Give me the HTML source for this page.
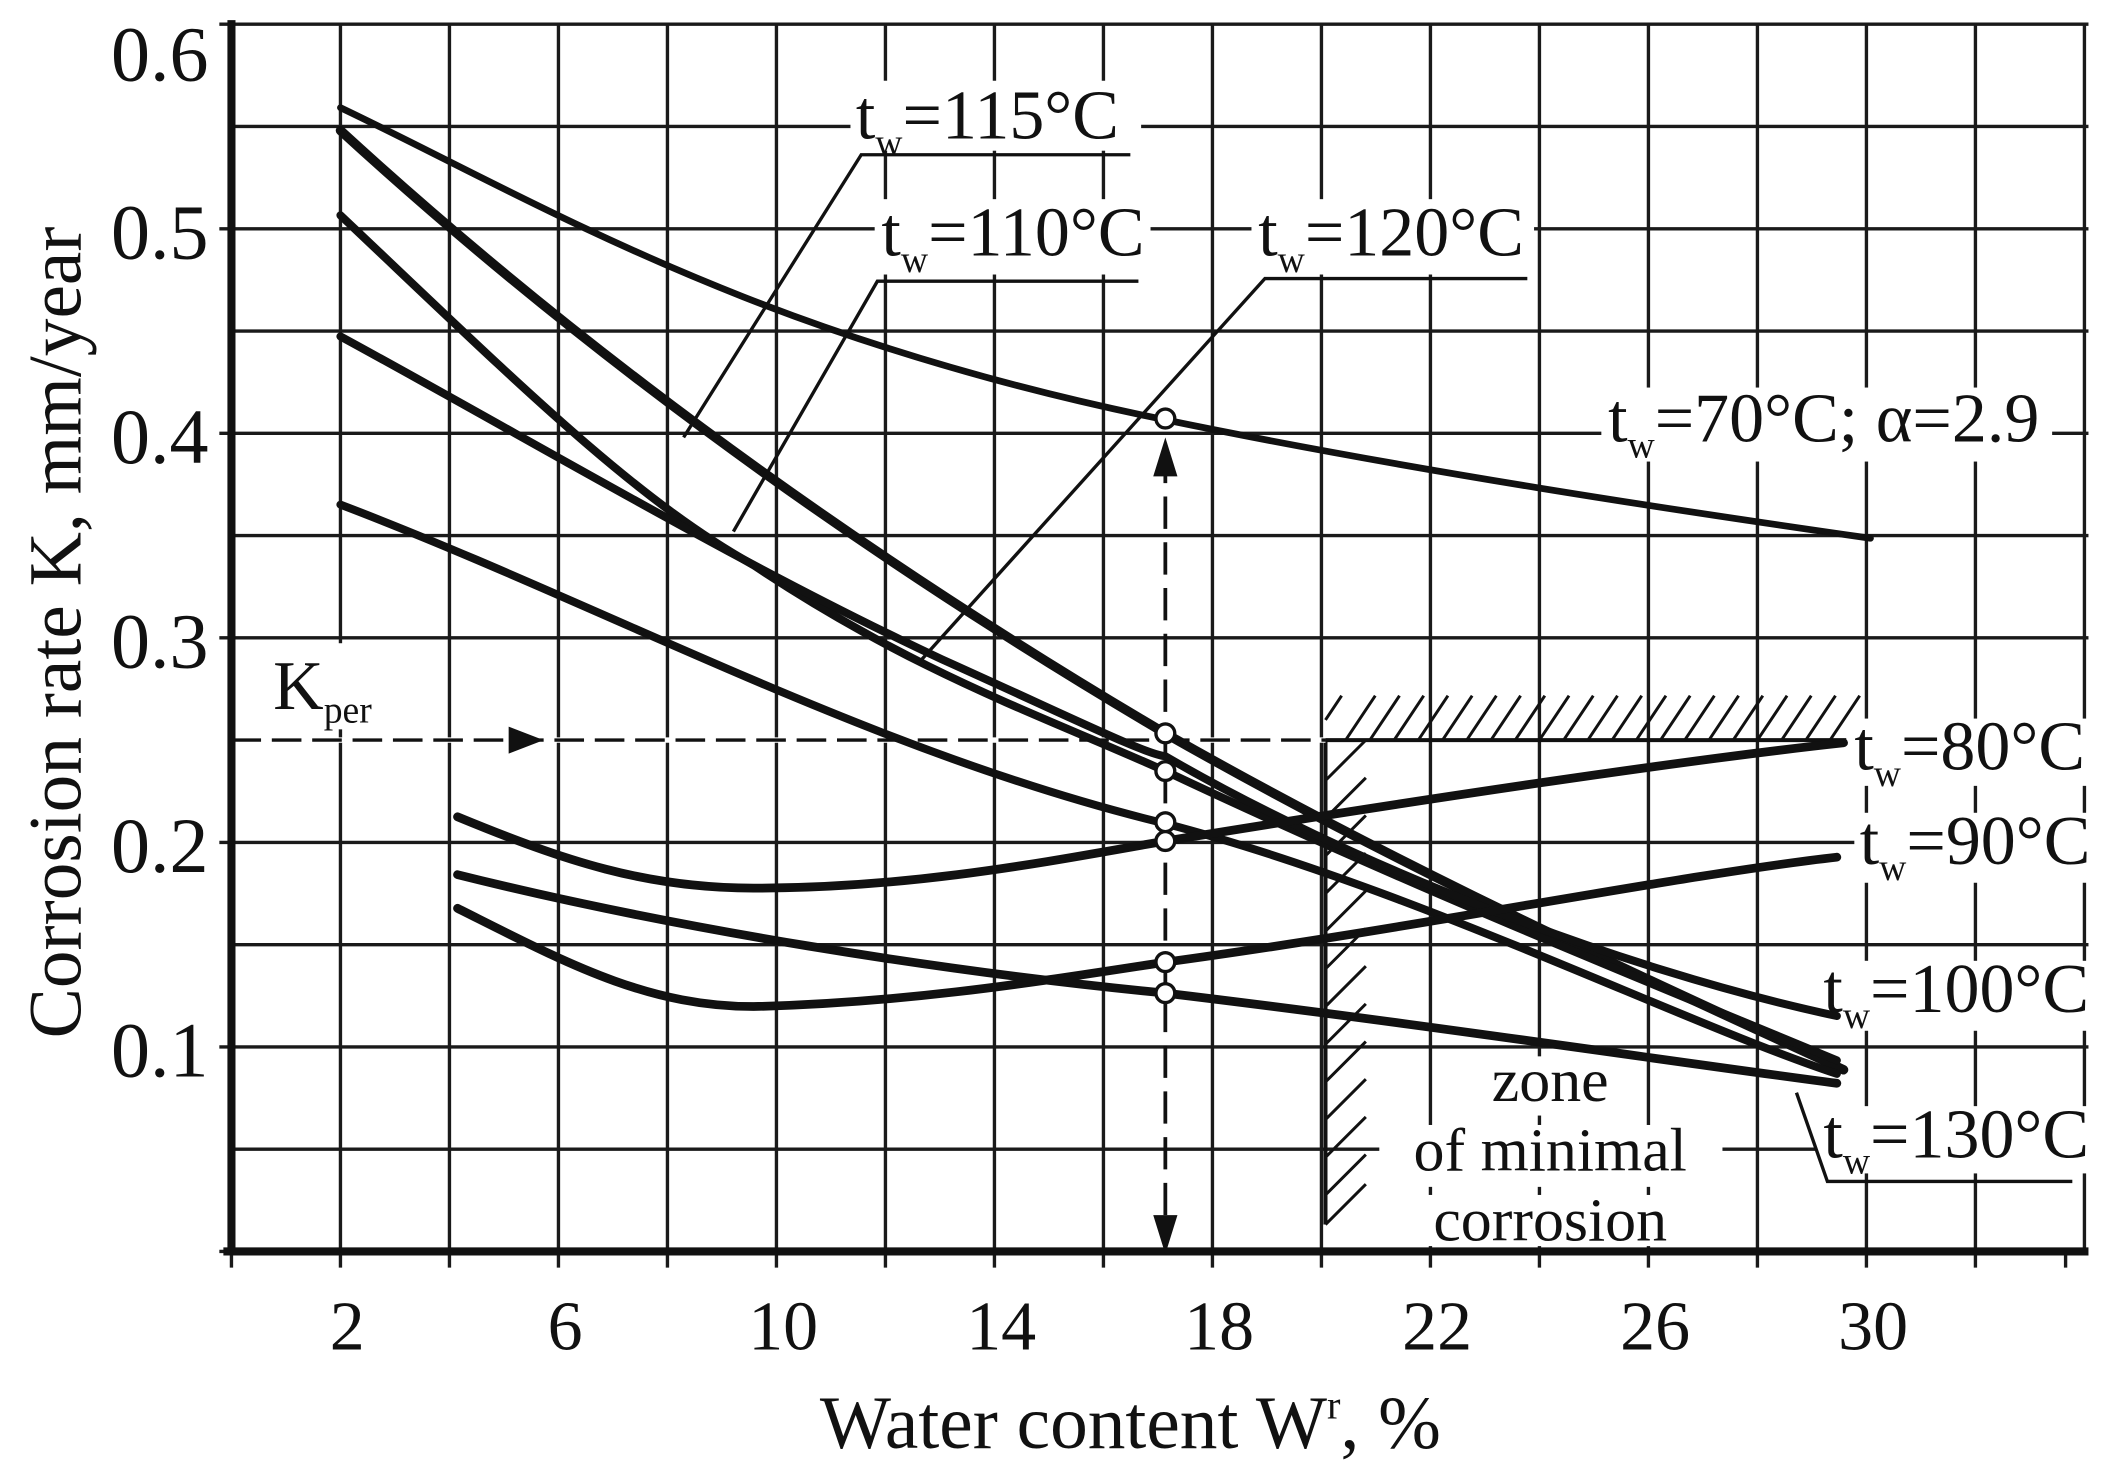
<!DOCTYPE html>
<html><head><meta charset="utf-8"><style>
html,body{margin:0;padding:0;background:#fff;}
svg{display:block;}
text{font-family:"Liberation Serif",serif;fill:#111;}
</style></head><body>
<svg width="2110" height="1477" viewBox="0 0 1568 1097.6" xmlns="http://www.w3.org/2000/svg">
<g stroke="#1a1a1a" stroke-width="2.5" fill="none">
<path d="M172,18H1552 M172,94H1552 M172,170H1552 M172,246H1552 M172,322H1552 M172,398H1552 M172,474H1552 M172,626H1552 M172,702H1552 M172,778H1552 M172,854H1552"/>
<path d="M253,18V930 M334,18V930 M415,18V930 M496,18V930 M577,18V930 M658,18V930 M739,18V930 M820,18V930 M901,18V930 M982,18V930 M1063,18V930 M1144,18V930 M1225,18V930 M1306,18V930 M1387,18V930 M1468,18V930 M1549,18V930"/>
<path d="M172,930V942 M253,930V942 M334,930V942 M415,930V942 M496,930V942 M577,930V942 M658,930V942 M739,930V942 M820,930V942 M901,930V942 M982,930V942 M1063,930V942 M1144,930V942 M1225,930V942 M1306,930V942 M1387,930V942 M1468,930V942 M1535,930V942"/>
<path d="M163,18H172 M163,170H172 M163,322H172 M163,474H172 M163,626H172 M163,778H172 M163,930H172"/>
</g>

<g stroke="#111" fill="none">
<path d="M985,550H1385 M985,550V910" stroke-width="3"/>
<path stroke-width="2.2" d="M985,535l12,-18 M1000,550l22,-33 M1018,550l22,-33 M1036,550l22,-33 M1054,550l22,-33 M1072,550l22,-33 M1090,550l22,-33 M1108,550l22,-33 M1126,550l22,-33 M1144,550l22,-33 M1162,550l22,-33 M1180,550l22,-33 M1198,550l22,-33 M1216,550l22,-33 M1234,550l22,-33 M1252,550l22,-33 M1270,550l22,-33 M1288,550l22,-33 M1306,550l22,-33 M1324,550l22,-33 M1342,550l22,-33 M1360,550l22,-33"/>
<path stroke-width="2.2" d="M985,580l30,-30 M985,608l30,-30 M985,636l30,-30 M985,664l30,-30 M985,692l30,-30 M985,720l30,-30 M985,748l30,-30 M985,776l30,-30 M985,804l30,-30 M985,832l30,-30 M985,860l30,-30 M985,888l30,-30 M985,910l30,-30"/>
</g>

<path d="M172,550H985" stroke="#fff" stroke-width="4" />
<path d="M172,550H985" stroke="#111" stroke-width="2.5" stroke-dasharray="22,8"/>
<path d="M378,540 L404,550 L378,560 Z" fill="#111"/>
<rect x="185" y="478" width="112" height="64" fill="#fff"/>
<text x="203" y="527" font-size="52">K<tspan font-size="28" dy="10">per</tspan></text>

<g fill="#fff">
<rect x="632" y="60" width="216" height="52"/>
<rect x="650" y="148" width="205" height="56"/>
<rect x="930" y="148" width="210" height="56"/>
<rect x="1190" y="288" width="335" height="55"/>
<rect x="1372" y="534" width="180" height="50"/>
<rect x="1378" y="604" width="180" height="52"/>
<rect x="1350" y="714" width="205" height="52"/>
<rect x="1350" y="822" width="205" height="50"/>
<rect x="1095" y="785" width="115" height="44"/>
<rect x="1025" y="836" width="255" height="46"/>
<rect x="1045" y="888" width="215" height="38"/>
</g>

<path d="M172,15V932 M166,930H1552" stroke="#111" stroke-width="6" fill="none"/>

<path d="M866,335V918" stroke="#111" stroke-width="2.8" stroke-dasharray="24,10" fill="none"/>
<path d="M857,354 L866,325 L875,354 Z M857,903 L866,932 L875,903 Z" fill="#111"/>

<g fill="none" stroke="#111" stroke-linecap="round">
<path stroke-width="5" d="M253,80 C400,150 560,250 866,312 C1050,350 1250,380 1390,400"/>
<path stroke-width="7" d="M253,97 C420,250 620,400 866,545 C1050,650 1230,730 1370,795"/>
<path stroke-width="6" d="M253,160 C380,280 470,370 560,420 C680,500 770,530 866,573 C1050,660 1250,740 1365,788"/>
<path stroke-width="6" d="M253,250 C400,330 550,420 700,490 C800,535 850,560 866,562 C1000,640 1200,720 1365,755"/>
<path stroke-width="6" d="M253,375 C450,450 650,560 866,612 C1050,660 1250,760 1365,798"/>
<path stroke-width="6.5" d="M340,607 C420,640 480,660 560,660 C680,660 780,640 866,625 C1050,595 1250,565 1370,552"/>
<path stroke-width="6.5" d="M340,675 C420,715 480,748 560,748 C680,745 780,728 866,715 C1050,690 1250,650 1365,637"/>
<path stroke-width="6.5" d="M340,650 C500,690 700,722 866,738 C1050,760 1250,790 1365,805"/>
</g>
<g fill="#fff" stroke="#111" stroke-width="2.5">
<circle cx="866" cy="311" r="7"/><circle cx="866" cy="545" r="7"/><circle cx="866" cy="573" r="7"/>
<circle cx="866" cy="611" r="7"/><circle cx="866" cy="625" r="7"/><circle cx="866" cy="715" r="7"/><circle cx="866" cy="738" r="7"/>
</g>

<g stroke="#111" stroke-width="2.5" fill="none">
<path d="M840,115H640L508,325"/>
<path d="M846,209H652L545,395"/>
<path d="M1135,207H940L685,490"/>
<path d="M1540,878H1358L1335,812"/>
</g>

<g font-size="52">
<text x="636" y="103">t<tspan font-size="28" dy="12">w</tspan><tspan dy="-12">=115°C</tspan></text>
<text x="655" y="190">t<tspan font-size="28" dy="12">w</tspan><tspan dy="-12">=110°C</tspan></text>
<text x="935" y="190">t<tspan font-size="28" dy="12">w</tspan><tspan dy="-12">=120°C</tspan></text>
<text x="1195" y="328">t<tspan font-size="28" dy="12">w</tspan><tspan dy="-12">=70°C; α=2.9</tspan></text>
<text x="1378" y="572">t<tspan font-size="28" dy="12">w</tspan><tspan dy="-12">=80°C</tspan></text>
<text x="1382" y="642">t<tspan font-size="28" dy="12">w</tspan><tspan dy="-12">=90°C</tspan></text>
<text x="1355" y="752">t<tspan font-size="28" dy="12">w</tspan><tspan dy="-12">=100°C</tspan></text>
<text x="1355" y="860">t<tspan font-size="28" dy="12">w</tspan><tspan dy="-12">=130°C</tspan></text>
<text x="1152" y="818" text-anchor="middle" font-size="46">zone</text>
<text x="1152" y="870" text-anchor="middle" font-size="46">of minimal</text>
<text x="1152" y="922" text-anchor="middle" font-size="46">corrosion</text>
</g>

<g font-size="58" text-anchor="end">
<text x="155" y="60">0.6</text>
<text x="155" y="192">0.5</text>
<text x="155" y="344">0.4</text>
<text x="155" y="496">0.3</text>
<text x="155" y="648">0.2</text>
<text x="155" y="800">0.1</text>
</g>
<g font-size="52" text-anchor="middle">
<text x="258" y="1003">2</text><text x="420" y="1003">6</text><text x="582" y="1003">10</text>
<text x="744" y="1003">14</text><text x="906" y="1003">18</text><text x="1068" y="1003">22</text>
<text x="1230" y="1003">26</text><text x="1392" y="1003">30</text>
</g>
<text x="840" y="1076" font-size="56" text-anchor="middle">Water content W<tspan font-size="30" dy="-22">r</tspan><tspan dy="22">, %</tspan></text>
<text transform="translate(60,470) rotate(-90)" font-size="56" text-anchor="middle">Corrosion rate K, mm/year</text>
</svg>
</body></html>
